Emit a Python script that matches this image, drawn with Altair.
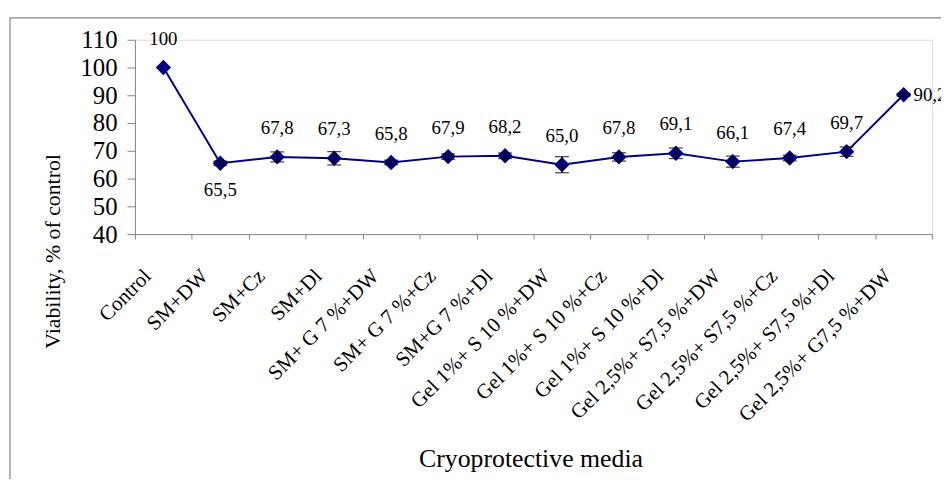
import altair as alt
import pandas as pd

categories = [
    "Control", "SM+DW", "SM+Cz", "SM+Dl",
    "SM+ G 7 %+DW", "SM+ G 7 %+Cz", "SM+G 7 %+Dl",
    "Gel 1%+ S 10 %+DW", "Gel 1%+ S 10 %+Cz", "Gel 1%+ S 10 %+Dl",
    "Gel 2,5%+ S7,5 %+DW", "Gel 2,5%+ S7,5 %+Cz", "Gel 2,5%+ S7,5 %+Dl",
    "Gel 2,5%+ G7,5 %+DW",
]
values = [100, 65.5, 67.8, 67.3, 65.8, 67.9, 68.2, 65.0, 67.8, 69.1, 66.1, 67.4, 69.7, 90.2]
errors = [0.0, 0.8, 1.8, 2.4, 0.8, 1.0, 1.0, 2.9, 1.5, 1.9, 2.0, 1.0, 1.7, 0.5]
labels = ["100", "65,5", "67,8", "67,3", "65,8", "67,9", "68,2", "65,0",
          "67,8", "69,1", "66,1", "67,4", "69,7", "90,2"]
y_ticks = [40, 50, 60, 70, 80, 90, 100, 110]

df = pd.DataFrame({"media": categories, "viability": values,
                   "err": errors, "label": labels})

FONT = "Liberation Serif"
NAVY = "#000080"
GRAY = "#868686"

x_scale = alt.Scale(paddingInner=0, paddingOuter=0)
y_scale = alt.Scale(domain=[40, 110], nice=False, zero=False)

x_axis = alt.Axis(
    title="Cryoprotective media", labelAngle=-45, labelAlign="right",
    labelBaseline="middle", labelPadding=34, labelOffset=-16,
    labelFontSize=21, labelFont=FONT, labelColor="black",
    tickBand="extent", tickSize=5, tickColor=GRAY, domainColor=GRAY,
    titleFont=FONT, titleFontSize=26, titleFontWeight="normal",
    titleColor="black", titleX=399, titleY=234, titleAlign="center",
    titleBaseline="alphabetic", labelOverlap=False, labelLimit=0,
)
y_axis = alt.Axis(
    title="Viability, % of control", values=y_ticks, tickCount=8,
    grid=False, tickSize=8, tickColor=GRAY, domainColor=GRAY,
    labelFont=FONT, labelFontSize=25, labelColor="black", labelPadding=10,
    labelOverlap=False,
    titleFont=FONT, titleFontSize=22, titleFontWeight="normal",
    titleColor="black", titleAngle=-90, titleX=-83, titleY=213,
    titleAlign="center", titleBaseline="middle",
)

def xq():
    return alt.X("media:N", sort=categories, scale=x_scale, axis=x_axis)

def yq(field):
    return alt.Y(field, scale=y_scale, axis=y_axis)

base = alt.Chart(df)

line = base.mark_line(color=NAVY, strokeWidth=2).encode(x=xq(), y=yq("viability:Q"))
points = base.mark_point(shape="diamond", filled=True, size=240,
                         color=NAVY, opacity=1).encode(x=xq(), y=yq("viability:Q"))

err_base = base.transform_calculate(
    lo="datum.viability - datum.err", hi="datum.viability + datum.err"
).transform_filter("datum.err > 0")
err_rule = err_base.mark_rule(color="black", strokeWidth=1.3).encode(
    x=xq(), y=yq("lo:Q"), y2="hi:Q")
cap_lo = err_base.mark_tick(color="black", size=14, thickness=1.3).encode(
    x=xq(), y=yq("lo:Q"))
cap_hi = err_base.mark_tick(color="black", size=14, thickness=1.3).encode(
    x=xq(), y=yq("hi:Q"))

below = ["SM+DW"]
right = ["Gel 2,5%+ G7,5 %+DW"]

lab_above = base.transform_filter(
    ~alt.FieldOneOfPredicate(field="media", oneOf=below + right)
).mark_text(font=FONT, fontSize=19, color="black", dy=-29,
            baseline="middle").encode(x=xq(), y=yq("viability:Q"), text="label:N")
lab_below = base.transform_filter(
    alt.FieldOneOfPredicate(field="media", oneOf=below)
).mark_text(font=FONT, fontSize=19, color="black", dy=27,
            baseline="middle").encode(x=xq(), y=yq("viability:Q"), text="label:N")
lab_right = base.transform_filter(
    alt.FieldOneOfPredicate(field="media", oneOf=right)
).mark_text(font=FONT, fontSize=19, color="black", dx=10, align="left",
            baseline="middle").encode(x=xq(), y=yq("viability:Q"), text="label:N")

frame = alt.Chart(alt.Data(values=[{}])).mark_rect(
    fill=None, filled=False, stroke=GRAY, strokeWidth=1.2
).encode(x=alt.value(-126), x2=alt.value(900), y=alt.value(-22), y2=alt.value(500))

chart = alt.layer(
    frame, line, points, err_rule, cap_lo, cap_hi, lab_above, lab_below, lab_right
).properties(
    width=804, height=196,
    autosize=alt.AutoSizeParams(type="none"),
    padding={"left": 128, "top": 30, "right": 9, "bottom": 245},
).configure_view(stroke=None, strokeWidth=0).configure(background="white")

chart.save("out.html", embed_options={"renderer": "svg", "actions": False})
